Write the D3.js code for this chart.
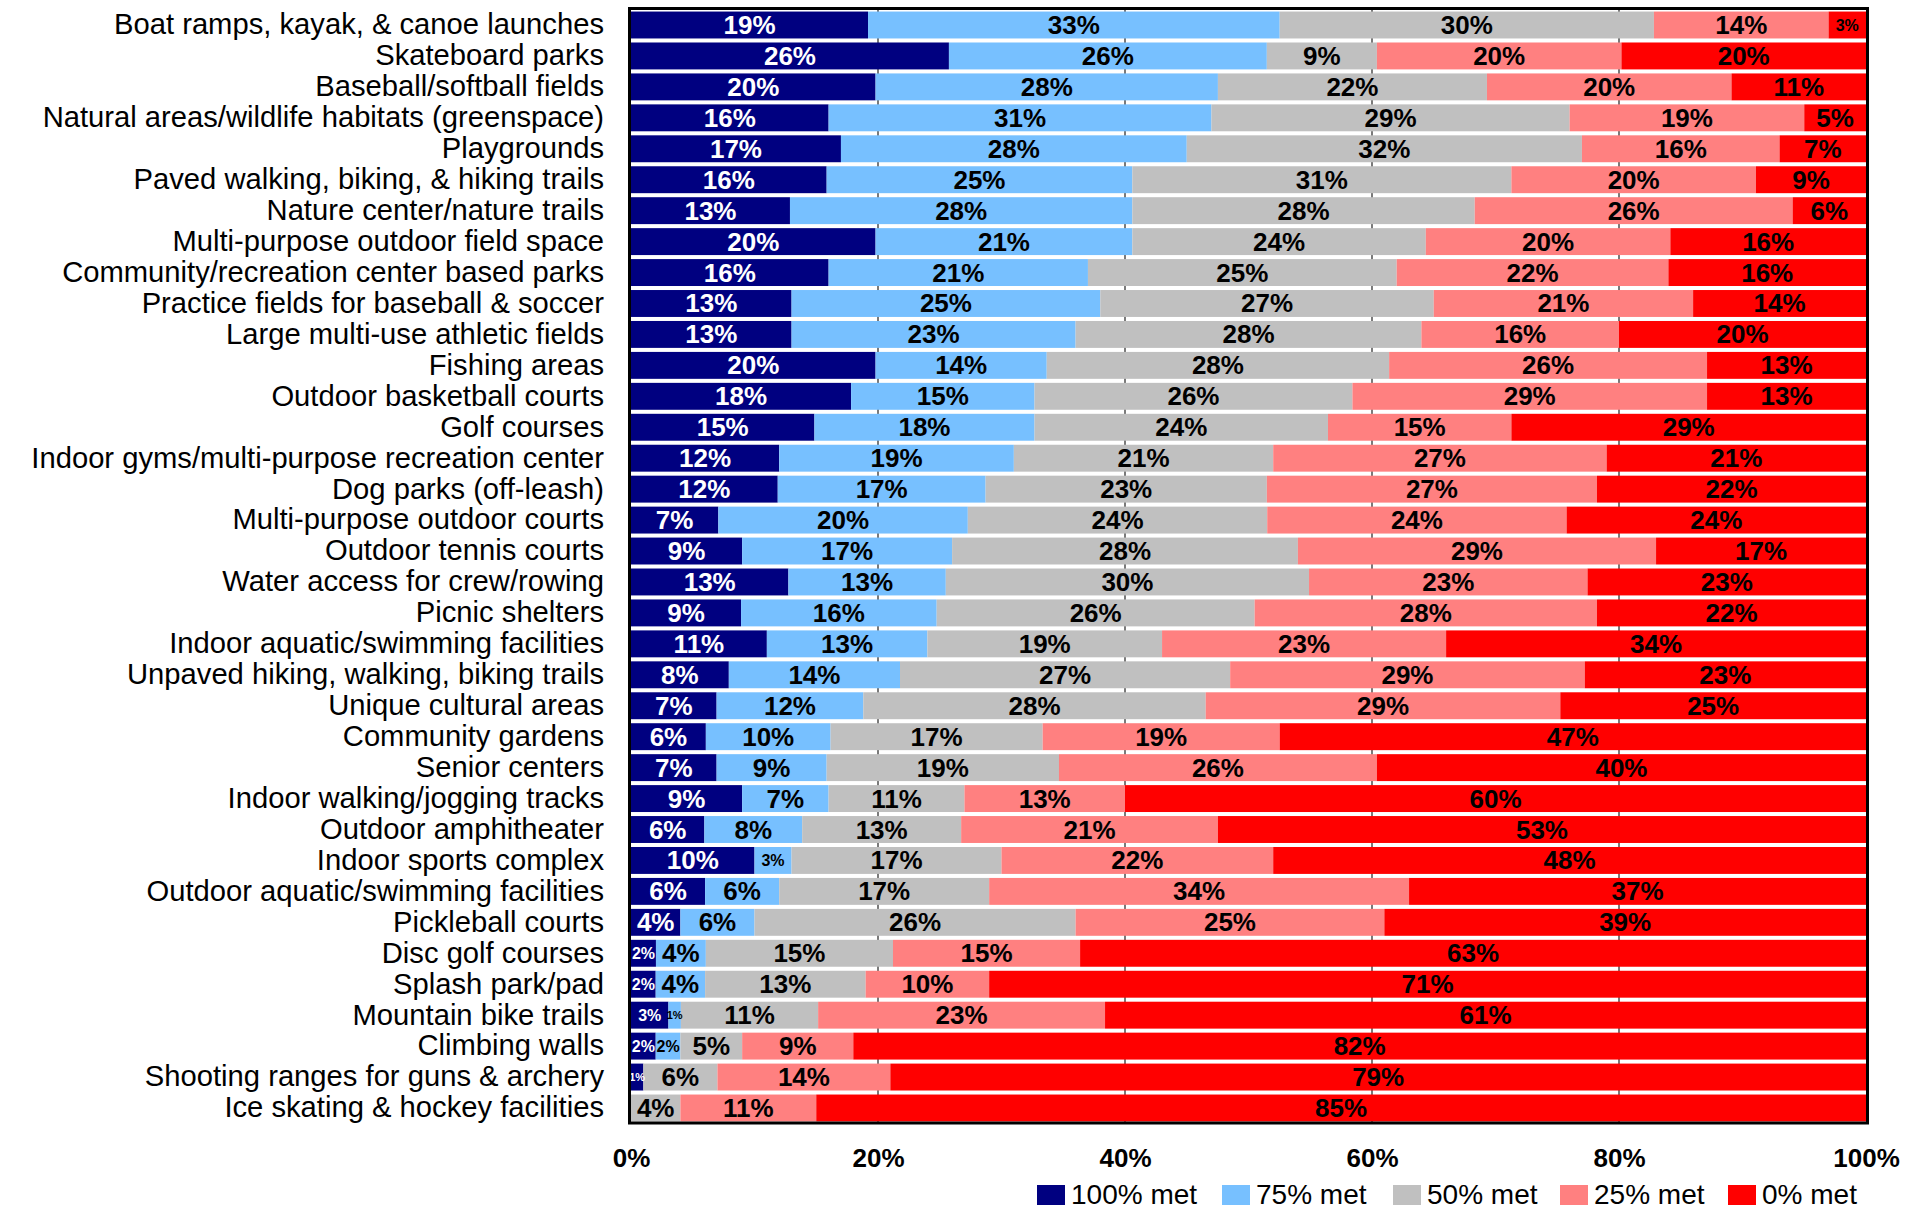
<!DOCTYPE html>
<html><head><meta charset="utf-8">
<script src="https://cdn.jsdelivr.net/npm/d3@7"></script>
<style>body{margin:0;background:#fff}svg{display:block}</style>
</head><body>
<svg id="c" width="1929" height="1211"></svg>
<script>
const categories = [
"Boat ramps, kayak, & canoe launches","Skateboard parks","Baseball/softball fields",
"Natural areas/wildlife habitats (greenspace)","Playgrounds","Paved walking, biking, & hiking trails",
"Nature center/nature trails","Multi-purpose outdoor field space","Community/recreation center based parks",
"Practice fields for baseball & soccer","Large multi-use athletic fields","Fishing areas",
"Outdoor basketball courts","Golf courses","Indoor gyms/multi-purpose recreation center",
"Dog parks (off-leash)","Multi-purpose outdoor courts","Outdoor tennis courts",
"Water access for crew/rowing","Picnic shelters","Indoor aquatic/swimming facilities",
"Unpaved hiking, walking, biking trails","Unique cultural areas","Community gardens",
"Senior centers","Indoor walking/jogging tracks","Outdoor amphitheater",
"Indoor sports complex","Outdoor aquatic/swimming facilities","Pickleball courts",
"Disc golf courses","Splash park/pad","Mountain bike trails","Climbing walls",
"Shooting ranges for guns & archery","Ice skating & hockey facilities"];
const seriesNames = ["100% met","75% met","50% met","25% met","0% met"];
const met100 = [19,26,20,16,17,16,13,20,16,13,13,20,18,15,12,12,7,9,13,9,11,8,7,6,7,9,6,10,6,4,2,2,3,2,1,0];
const met75  = [33,26,28,31,28,25,28,21,21,25,23,14,15,18,19,17,20,17,13,16,13,14,12,10,9,7,8,3,6,6,4,4,1,2,0,0];
const met50  = [30,9,22,29,32,31,28,24,25,27,28,28,26,24,21,23,24,28,30,26,19,27,28,17,19,11,13,17,17,26,15,13,11,5,6,4];
const met25  = [14,20,20,19,16,20,26,20,22,21,16,26,29,15,27,27,24,29,23,28,23,29,29,19,26,13,21,22,34,25,15,10,23,9,14,11];
const met0   = [3,20,11,5,7,9,6,16,16,14,20,13,13,29,21,22,24,17,23,22,34,23,25,47,40,60,53,48,37,39,63,71,61,82,79,85];
const xTicks = [0,0.2,0.4,0.6,0.8,1];
const colors = ["#000080","#77C0FF","#C0C0C0","#FF8080","#FF0000"];
const textColors = ["#fff","#000","#000","#000","#000"];

const svg = d3.select("#c");
const L=631, R=1866, T=10, B=1123;
const FONT = "'Liberation Sans', Arial, sans-serif";

const rows = categories.map((c,i)=>{
  const vals=[met100[i],met75[i],met50[i],met25[i],met0[i]];
  const tot=d3.sum(vals);
  let acc=0;
  return {cat:c, segs: vals.map((v,k)=>{const s={k,v,x0:acc/tot,x1:(acc+v)/tot};acc+=v;return s;})};
});

const x = d3.scaleLinear().domain([0,1]).range([L,R]);
const y = d3.scaleBand().domain(categories).range([T,B]).paddingInner(0.13).paddingOuter(0.05);

// gridlines
svg.append("g").selectAll("line").data(xTicks.slice(1,-1)).join("line")
  .attr("x1",d=>x(d)).attr("x2",d=>x(d)).attr("y1",T).attr("y2",B)
  .attr("stroke","#7a7a7a").attr("stroke-width",2);

const g = svg.append("g").selectAll("g").data(rows).join("g");
g.selectAll("rect").data(d=>d.segs.filter(s=>s.v>0).map(s=>({...s,cat:d.cat}))).join("rect")
  .attr("x",s=>x(s.x0)).attr("width",s=>x(s.x1)-x(s.x0))
  .attr("y",s=>y(s.cat)).attr("height",y.bandwidth())
  .attr("fill",s=>colors[s.k]);
g.selectAll("text").data(d=>d.segs.filter(s=>s.v>0).map(s=>({...s,cat:d.cat}))).join("text")
  .attr("x",s=>(x(s.x0)+x(s.x1))/2).attr("y",s=>y(s.cat)+y.bandwidth()/2)
  .attr("text-anchor","middle").attr("dominant-baseline","central")
  .attr("font-family",FONT).attr("font-weight","bold")
  .attr("font-size",s=>s.v<=1?11:(s.v<=3?16:26))
  .attr("fill",s=>textColors[s.k])
  .text(s=>s.v+"%");

// frame
svg.append("rect").attr("x",L-1.5).attr("y",T-1.5).attr("width",R-L+3).attr("height",B-T+1.5)
  .attr("fill","none").attr("stroke","#000").attr("stroke-width",3);

// category labels
svg.append("g").attr("transform",`translate(${L-27},0)`)
  .call(d3.axisLeft(y).tickSize(0).tickPadding(0))
  .call(a=>a.select(".domain").remove())
  .selectAll("text").attr("font-family",FONT).attr("font-size",29.2).attr("fill","#000");

// x axis labels
svg.append("g").attr("transform",`translate(0,${B+26})`)
  .call(d3.axisBottom(x).tickValues(xTicks).tickFormat(d3.format(".0%")).tickSize(0).tickPadding(0))
  .call(a=>a.select(".domain").remove())
  .selectAll("text").attr("font-family",FONT).attr("font-weight","bold").attr("font-size",26).attr("fill","#000");

// legend
const legX=[1037,1222,1393,1560,1728];
const lg = svg.append("g").selectAll("g").data(seriesNames).join("g")
  .attr("transform",(d,i)=>`translate(${legX[i]},1185)`);
lg.append("rect").attr("width",28).attr("height",20).attr("fill",(d,i)=>colors[i]);
lg.append("text").attr("x",34).attr("y",19)
  .attr("font-family",FONT).attr("font-size",28).text(d=>d);
</script>
</body></html>
